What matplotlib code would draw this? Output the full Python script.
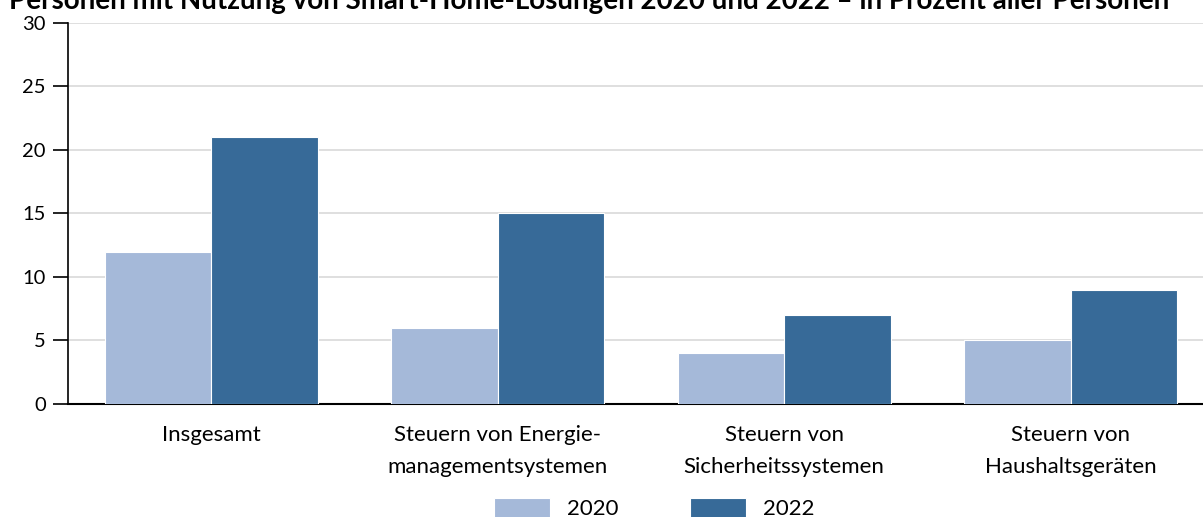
import matplotlib.pyplot as plt
import numpy as np

plt.rcParams['font.family'] = ['Lato', 'DejaVu Sans']

categories = ['Insgesamt', 'Steuern von Energie-\nmanagementsystemen',
              'Steuern von\nSicherheitssystemen', 'Steuern von\nHaushaltsgeräten']
werte_2020 = [12, 6, 4, 5]
werte_2022 = [21, 15, 7, 9]
jahre = ['2020', '2022']
farben = ['#a5b9d9', '#376a98']

fig = plt.figure(figsize=(12.03, 5.17), dpi=100)
ax = fig.add_axes([0.0565, 0.2186, 0.9526, 0.737])

x = np.arange(len(categories))
w = 0.372
ax.bar(x - w / 2, werte_2020, w, color=farben[0], edgecolor='white', linewidth=0.8, label=jahre[0], zorder=3)
ax.bar(x + w / 2, werte_2022, w, color=farben[1], edgecolor='white', linewidth=0.8, label=jahre[1], zorder=3)

ax.set_xlim(-0.5, 3.5)
ax.set_ylim(0, 30)
ax.set_yticks(range(0, 31, 5))
ax.yaxis.grid(True, color='#d9d9d9', linewidth=1.2, zorder=0)
ax.set_axisbelow(True)
for s in ['top', 'right']:
    ax.spines[s].set_visible(False)
ax.spines['left'].set_linewidth(1.2)
ax.spines['bottom'].set_linewidth(1.5)
ax.tick_params(axis='y', length=11, width=1.2, labelsize=14.5, pad=5)
ax.tick_params(axis='x', length=0, labelsize=16, pad=15)
ax.set_xticks(x)
ax.set_xticklabels(categories, linespacing=1.75)

# title is clipped at the top edge, as in the reference
fig.text(0.49, 1 - 9 / 517, 'Personen mit Nutzung von Smart-Home-Lösungen 2020 und 2022 – in Prozent aller Personen',
         ha='center', va='baseline', fontsize=20, fontweight='bold')

fig.legend(loc='lower center', bbox_to_anchor=(0.544, -0.043), ncol=2, frameon=False, fontsize=16,
           handlelength=2.5, handleheight=1.0, columnspacing=3.2, handletextpad=0.8)

fig.savefig('out.png', dpi=100)
